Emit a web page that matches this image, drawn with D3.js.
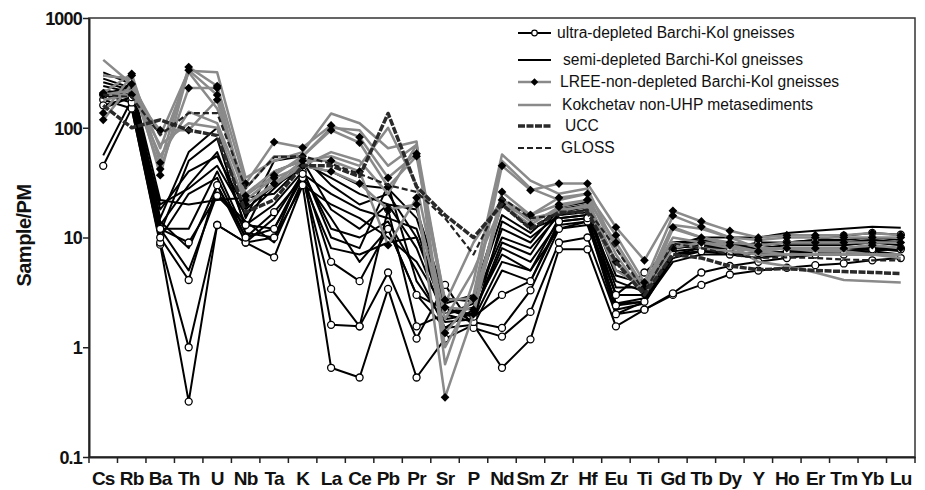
<!DOCTYPE html>
<html>
<head>
<meta charset="utf-8">
<script src="https://cdn.jsdelivr.net/npm/d3@7"></script>
<style>
  body { margin: 0; background: #fff; }
  svg { font-family: 'Liberation Sans', Arial, sans-serif; }
</style>
</head>
<body>
<svg id="chart" width="925" height="490"></svg>
<script>
// elements on the x axis
const elements = ['Cs', 'Rb', 'Ba', 'Th', 'U', 'Nb', 'Ta', 'K', 'La', 'Ce', 'Pb', 'Pr', 'Sr', 'P', 'Nd', 'Sm', 'Zr', 'Hf', 'Eu', 'Ti', 'Gd', 'Tb', 'Dy', 'Y', 'Ho', 'Er', 'Tm', 'Yb', 'Lu']
const yTicks = [0.1, 1, 10, 100, 1000]

// sample / primitive mantle
const ultraDepleted = [
  [45, 150, 8.6, 0.32, 13, 9, 6.6, 30, 0.65, 0.53, 3.4, 0.53, 1.2, 1.6, 0.65, 1.18, 7.8, 7.8, 1.55, 2.2, 3.0, 3.7, 4.6, 5.0, 5.3, 5.6, 5.8, 6.2, 6.5],
  [180, 150, 9, 1.0, 13, 9, 10, 40, 1.6, 1.55, 4.8, 1.2, 3.7, 1.5, 1.25, 2.1, 9, 10, 2.0, 2.2, 3.1, 4.8, 5.5, 6.0, 6.5, 7, 7, 7.5, 8],
  [200, 170, 10, 4.1, 30, 10, 17, 35, 3.4, 1.55, 18, 1.55, 2.0, 1.7, 1.5, 3.3, 12, 14, 3.0, 4.8, 8, 8.5, 8, 9, 9, 9.5, 10.4, 11, 10.6],
  [160, 190, 12, 9, 24, 13, 12, 38, 6, 4, 12, 3, 2.2, 1.9, 3, 4, 14, 15, 2.4, 2.6, 7, 7.5, 7, 7.2, 7.4, 7.4, 7.5, 7.8, 7.8]
]
const semiDepleted = [
  [320, 250, 22, 20, 22, 23, 25, 45, 40, 30, 28, 15, 2.5, 3, 20, 12, 15, 16, 4, 3.2, 9, 9, 9, 8.5, 9, 9, 9, 9.5, 9],
  [300, 280, 15, 60, 100, 15, 50, 55, 30, 20, 25, 10, 2, 2.5, 10, 8, 16, 18, 3, 3, 8, 8.5, 8.5, 8, 8, 8, 8, 8.5, 8],
  [260, 220, 11, 50, 80, 12, 40, 50, 18, 12, 20, 8, 1.8, 2, 8, 6, 14, 15, 2.5, 2.8, 7, 8, 8, 7.5, 8, 8, 8, 8, 8],
  [56, 180, 13, 30, 60, 13, 20, 40, 12, 10, 14, 5, 1.5, 2.2, 7, 5, 15, 16, 2.2, 2.5, 6.5, 7.5, 7.5, 7, 7.5, 7.5, 7.5, 7.5, 7],
  [220, 200, 10, 25, 35, 10, 12, 35, 15, 6, 12, 3, 1.5, 1.6, 5, 4, 13, 14, 2, 2.6, 6, 7, 7, 6.5, 7, 7.5, 7.5, 8, 7.5],
  [200, 240, 12, 12, 40, 11, 10, 30, 20, 15, 10, 6, 2.2, 2.0, 9, 7, 17, 19, 3.5, 3.5, 8.5, 10, 10, 10, 11, 11.5, 12, 12.5, 12.3],
  [170, 260, 14, 8, 30, 9, 15, 38, 25, 18, 15, 12, 2.0, 2.3, 12, 9, 18, 20, 5, 4, 9, 9.5, 9, 8.5, 9, 9.5, 9.5, 10, 9.5],
  [240, 210, 18, 40, 55, 18, 30, 42, 10, 8, 30, 4, 1.7, 1.8, 6, 5, 12, 13, 2.5, 2.6, 7, 7.5, 7.5, 7, 7, 7, 7, 7, 7],
  [280, 230, 12, 5, 25, 14, 9, 33, 8, 7, 9, 10, 2.4, 1.7, 14, 10, 16, 17, 3, 3, 7.5, 8, 8, 8, 8.5, 8.5, 8.5, 9, 8.5],
  [150, 190, 20, 28, 45, 16, 28, 48, 35, 25, 20, 18, 2.8, 2.6, 16, 11, 19, 21, 4.5, 3.8, 9, 9, 8.8, 8.5, 9, 9, 9, 9.5, 9]
]
const lreeNonDepleted = [
  [207, 310, 48, 357, 240, 31, 74, 66, 105, 82, 35, 58, 2.7, 2.8, 45, 27, 31, 31, 12.4, 6.2, 17.5, 14, 11.5, 10, 10.5, 10.5, 10.5, 11, 10.5],
  [136, 300, 37, 335, 199, 24, 37, 55, 95, 73, 29, 55, 2.3, 2.2, 26, 16, 23, 25, 10.5, 3.9, 15.8, 12.5, 10, 9.5, 10, 10, 10, 10, 10],
  [118, 250, 42, 230, 230, 20, 31, 50, 50, 40, 8.5, 23, 0.35, 2.0, 22, 16, 20, 22, 9, 3.5, 12.4, 10, 9, 8.5, 9, 9, 9, 9, 9],
  [200, 200, 95, 95, 180, 22, 35, 45, 40, 31, 18, 20, 1.35, 2.8, 20, 13, 19, 22, 6, 3, 8, 9, 8.5, 7.5, 8, 8, 8, 8.5, 8]
]
const kokchetav = [
  [415, 250, 85, 330, 320, 35, 50, 60, 135, 110, 65, 75, 0.7, 4, 57, 33, 25, 28, 8, 3.5, 13, 12, 10, 8, 8, 7.5, 7.5, 7, 7],
  [300, 280, 65, 320, 150, 28, 55, 55, 100, 95, 45, 70, 1.0, 3, 50, 28, 22, 25, 7, 3, 12, 10, 8.5, 6, 5.5, 4.8, 4.1, 4.0, 3.9],
  [200, 220, 55, 140, 110, 25, 40, 50, 55, 45, 100, 30, 1.8, 5, 20, 15, 17, 20, 6, 3.5, 10, 9, 8, 7.5, 7, 7, 7, 7, 6.5],
  [180, 200, 70, 110, 100, 20, 30, 45, 60, 50, 25, 70, 2.5, 9, 22, 14, 18, 19, 5, 3.5, 9, 8, 7.5, 7, 7, 7, 7, 7, 7]
]
const ucc = [160, 100, 118, 95, 85, 17, 22, 45, 45, 36, 135, 29, 16, 10, 20, 12, 17, 17, 6, 3, 7, 6.5, 5.5, 5.1, 5.2, 5, 4.9, 4.8, 4.7]
const gloss = [200, 190, 86, 136, 136, 28, 54, 55, 47, 38, 30, 26, 15, 7, 23, 15, 16, 18, 8, 3.2, 8.8, 8, 7, 6.5, 6.6, 6.5, 6.3, 6.2, 6.2]

const groups = [
  { name: 'semi-depleted Barchi-Kol gneisses', rows: semiDepleted, color: '#000', width: 2, marker: null, dash: null },
  { name: 'ultra-depleted Barchi-Kol gneisses', rows: ultraDepleted, color: '#000', width: 2, marker: 'circle', dash: null },
  { name: 'Kokchetav non-UHP metasediments', rows: kokchetav, color: '#8a8a8a', width: 2.5, marker: null, dash: null },
  { name: 'LREE-non-depleted Barchi-Kol gneisses', rows: lreeNonDepleted, color: '#8a8a8a', width: 2.5, marker: 'diamond', dash: null },
  { name: 'UCC', rows: [ucc], color: '#2a2a2a', width: 3.5, marker: null, dash: '7,1.5' },
  { name: 'GLOSS', rows: [gloss], color: '#222', width: 2.2, marker: null, dash: '6,3' }
]

const legendOrder = [1, 0, 3, 2, 4, 5]

const W = 925, H = 490
const margin = { top: 18, right: 10, bottom: 33, left: 89 }
const innerW = W - margin.left - margin.right
const innerH = H - margin.top - margin.bottom

const svg = d3.select('#chart')
const g = svg.append('g').attr('transform', `translate(${margin.left},${margin.top})`)

const x = d3.scaleBand().domain(elements).range([0, innerW])
const y = d3.scaleLog().domain([0.1, 1000]).range([innerH, 0])
const xc = el => x(el) + x.bandwidth() / 2

// frame
g.append('rect')
  .attr('width', innerW).attr('height', innerH)
  .attr('fill', 'none').attr('stroke', '#333').attr('stroke-width', 1.5)

// y axis
const yAxis = d3.axisLeft(y).tickValues(yTicks).tickFormat(d3.format('~g')).tickSize(6).tickSizeOuter(0)
const yAxisG = g.append('g').call(yAxis)
yAxisG.select('.domain').attr('stroke', '#222').attr('stroke-width', 2)
yAxisG.selectAll('.tick line').attr('stroke', '#222').attr('stroke-width', 1.5)
yAxisG.selectAll('.tick text')
  .attr('font-size', 18).attr('font-weight', 'bold').attr('fill', '#111')
  .attr('font-family', "'Liberation Sans', Arial, sans-serif")
  .attr('letter-spacing', -0.8).attr('x', -7).attr('dy', '0.36em')

// x axis: labels centred in bands, ticks at band edges
const xAxisG = g.append('g').attr('transform', `translate(0,${innerH})`)
  .call(d3.axisBottom(x).tickSize(0).tickSizeOuter(0))
xAxisG.select('.domain').attr('stroke', '#222').attr('stroke-width', 2)
xAxisG.selectAll('.tick text')
  .attr('font-size', 19).attr('font-weight', 'bold').attr('fill', '#111')
  .attr('font-family', "'Liberation Sans', Arial, sans-serif")
  .attr('letter-spacing', -0.8).attr('y', 15)
xAxisG.selectAll('line.edge')
  .data(d3.range(elements.length + 1))
  .join('line')
  .attr('class', 'edge')
  .attr('x1', i => i * x.step()).attr('x2', i => i * x.step())
  .attr('y1', 0).attr('y2', 6)
  .attr('stroke', '#222').attr('stroke-width', 1.5)

// y title
g.append('text')
  .attr('transform', 'rotate(-90)')
  .attr('x', -innerH / 2 + 2)
  .attr('y', -margin.left + 31)
  .attr('text-anchor', 'middle')
  .attr('font-size', 20).attr('font-weight', 'bold').attr('fill', '#111')
  .attr('letter-spacing', -0.5)
  .text('Sample/PM')

// lines
const line = d3.line().x((v, i) => xc(elements[i])).y(v => y(v))

// square turned 45 degrees, like the original markers
const diamond = d3.symbol().type(d3.symbolSquare).size(38)

groups.forEach(grp => {
  const gg = g.append('g')
  grp.rows.forEach(row => {
    gg.append('path')
      .attr('d', line(row))
      .attr('fill', 'none')
      .attr('stroke', grp.color)
      .attr('stroke-width', grp.width)
      .attr('stroke-linejoin', 'round')
      .attr('stroke-dasharray', grp.dash)
  })
  grp.rows.forEach(row => {
    if (grp.marker === 'circle') {
      gg.selectAll(null).data(row).join('circle')
        .attr('cx', (v, i) => xc(elements[i])).attr('cy', v => y(v))
        .attr('r', 3.5).attr('fill', '#fff').attr('stroke', '#000').attr('stroke-width', 1.3)
    } else if (grp.marker === 'diamond') {
      gg.selectAll(null).data(row).join('path')
        .attr('transform', (v, i) => `translate(${xc(elements[i])},${y(v)}) rotate(45)`)
        .attr('d', diamond).attr('fill', '#000')
    }
  })
})

// legend
const legendY = [33, 60, 82, 105, 126, 148]
const legendTextX = [557, 563, 560, 562, 565, 561]
const legend = svg.append('g')
legendOrder.forEach((gi, k) => {
  const grp = groups[gi]
  const ly = legendY[k]
  legend.append('line')
    .attr('x1', 518).attr('x2', 551).attr('y1', ly).attr('y2', ly)
    .attr('stroke', grp.color).attr('stroke-width', grp.width)
    .attr('stroke-dasharray', grp.dash)
  if (grp.marker === 'circle') {
    legend.append('circle').attr('cx', 534.5).attr('cy', ly).attr('r', 2.8)
      .attr('fill', '#fff').attr('stroke', '#000').attr('stroke-width', 1.2)
  } else if (grp.marker === 'diamond') {
    legend.append('path').attr('transform', `translate(534.5,${ly}) rotate(45)`)
      .attr('d', d3.symbol().type(d3.symbolSquare).size(28)).attr('fill', '#000')
  }
  legend.append('text')
    .attr('x', legendTextX[k]).attr('y', ly).attr('dy', '0.35em')
    .attr('font-size', 15.6).attr('fill', '#111')
    .text(grp.name)
})
</script>
</body>
</html>
